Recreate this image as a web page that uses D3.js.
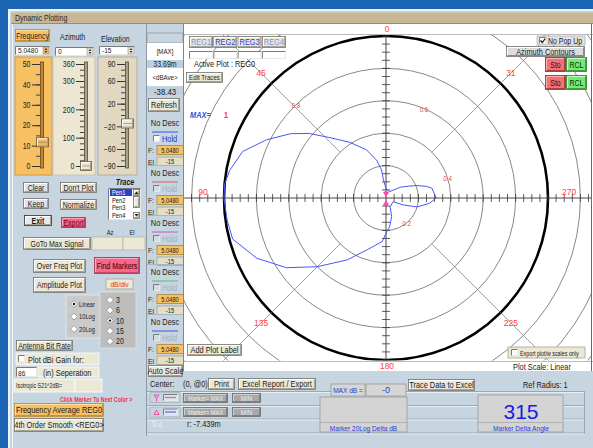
<!DOCTYPE html>
<html>
<head>
<meta charset="utf-8">
<script src="https://cdn.jsdelivr.net/npm/d3@7"></script>
<style>
  body { margin: 0; background: #1c64b4; overflow: hidden; }
  svg text { font-family: "Liberation Sans", Arial, sans-serif; }
</style>
</head>
<body>
<svg id="chart" width="593" height="448"></svg>
<script>
// polar trace (angle in degrees, 0 at top, counter-clockwise; linear magnitude)
var traceAngle  = [0, 8, 9, 14, 22, 33, 43, 50, 56, 64, 72, 80, 85, 90, 98, 105, 115, 119, 125, 135, 148, 160, 175, 181, 187, 197, 205, 243, 248, 254, 263, 270, 282, 286, 292, 298, 307, 332];
var traceRadius = [0.06, 0.11, 0.175, 0.24, 0.32, 0.41, 0.51, 0.62, 0.71, 0.82, 0.93, 0.98, 1.0, 1.0, 0.99, 0.98, 0.88, 0.82, 0.75, 0.60, 0.45, 0.34, 0.27, 0.21, 0.18, 0.12, 0.06, 0.05, 0.115, 0.20, 0.27, 0.31, 0.29, 0.26, 0.205, 0.156, 0.11, 0.044];

var ringValues = [0.2, 0.4, 0.6, 0.8, 1.0, 1.2, 1.4, 1.6];
var ringLabels = ['0.2', '0.4', '0.6', '0.8'];
var ringLabelAngle = [220, 288, 337, 44];
var spokeAngles = [45, 135, 225, 315];
var compassAngles = [0, 45, 90, 135, 180, 225, 270, 315];
var compassLabels = ['0', '45', '90', '135', '180', '225', '270', '31'];

var freqTicks = [50, 40, 30, 20, 10, 0];
var azTicks = [360, 300, 200, 100, 0];
var elTicks = [90, 60, 20, -20, -60, -90];
var freqValue = 11.6, azValue = 0, elValue = -15;

var pens = ['Pen1', 'Pen2', 'Pen3', 'Pen4'];
var traceColors = ['#4050f0', '#e05a5a', '#d050d0', '#50c070', '#4050f0'];
var scaleModes = ['Linear', '10Log', '20Log'];
var dbSteps = ['3', '6', '10', '15', '20'];

var W = 593, H = 448;
var panel = '#c6d5e0', beige = '#ebe8da', orange = '#f6c063';
var svg = d3.select('#chart');

function rect(g, x, y, w, h, fill, stroke, sw) {
  return g.append('rect').attr('x', x).attr('y', y).attr('width', w).attr('height', h)
      .attr('fill', fill || 'none').attr('stroke', stroke || 'none').attr('stroke-width', sw || 1);
}
function txt(g, x, y, s, o) {
  o = o || {};
  return g.append('text').attr('x', x).attr('y', y).text(s)
      .attr('font-size', o.size || 8.5).attr('fill', o.color || '#1a1a1a')
      .attr('text-anchor', o.anchor || 'start')
      .attr('font-weight', o.bold ? 'bold' : null)
      .attr('font-style', o.italic ? 'italic' : null)
      .classed('wide', !!o.wide);
}
function btn(g, x, y, w, h, label, o) {
  o = o || {};
  rect(g, x + 0.5, y + 0.5, w - 1, h - 1, o.fill || beige, o.stroke || '#707070', 0.8);
  g.append('path').attr('d', 'M' + (x + 1.5) + ',' + (y + h - 2) + 'V' + (y + 1.5) + 'H' + (x + w - 2))
      .attr('fill', 'none').attr('stroke', o.light || '#ffffff').attr('stroke-width', 1);
  g.append('path').attr('d', 'M' + (x + 1.5) + ',' + (y + h - 1.5) + 'H' + (x + w - 1.5) + 'V' + (y + 1.5))
      .attr('fill', 'none').attr('stroke', o.dark || '#a5a290').attr('stroke-width', 1);
  if (label) txt(g, x + w / 2, y + h / 2 + (o.size || 8.5) * 0.36, label,
      {anchor: 'middle', size: o.size || 8.5, color: o.color, bold: o.bold});
}
function sunken(g, x, y, w, h, fill) {
  rect(g, x, y, w, h, fill || '#ffffff');
  g.append('path').attr('d', 'M' + (x + 0.5) + ',' + (y + h) + 'V' + (y + 0.5) + 'H' + (x + w))
      .attr('fill', 'none').attr('stroke', '#7a7a7a');
  g.append('path').attr('d', 'M' + (x + 0.5) + ',' + (y + h - 0.5) + 'H' + (x + w - 0.5) + 'V' + (y + 0.5))
      .attr('fill', 'none').attr('stroke', '#e8e8e8');
}
function check(g, x, y, on, disabled) {
  sunken(g, x, y, 7, 7, disabled ? '#d4dbe2' : '#ffffff');
  if (on) g.append('path').attr('d', 'M' + (x + 1.5) + ',' + (y + 3.5) + 'l1.8,2l3,-4')
      .attr('fill', 'none').attr('stroke', '#111').attr('stroke-width', 1.2);
}
function radio(g, x, y, on) {
  g.append('path').attr('d', 'M' + (x - 3.5) + ',' + y + 'L' + x + ',' + (y - 3.5) + 'L' + (x + 3.5) + ',' + y + 'L' + x + ',' + (y + 3.5) + 'Z')
      .attr('fill', '#ffffff').attr('stroke', '#8a8a8a').attr('stroke-width', 0.8);
  if (on) g.append('circle').attr('cx', x).attr('cy', y).attr('r', 1.2).attr('fill', '#111');
}
function spin(g, x, y, w, h, val, sf) {
  sunken(g, x, y, w, h, '#ffffff');
  txt(g, x + 3, y + h - 2, val, {size: 8});
  rect(g, x + w - 7, y + 1, 6, h - 2, sf || '#ece8d8', '#8a8a8a', 0.6);
  g.append('path').attr('d', 'M' + (x + w - 5.5) + ',' + (y + 4) + 'l1.5,-2l1.5,2Z M' + (x + w - 5.5) + ',' + (y + h - 4) + 'l1.5,2l1.5,-2Z')
      .attr('fill', '#333');
}

// ---------- window ----------
rect(svg, 0, 0, W, H, '#1c64b4');
rect(svg, 8, 9, W - 8, H - 9, '#eef3f7');
rect(svg, 10, 11, W - 10, H - 11, panel);
rect(svg, 11.5, 12.5, W - 11.5, 11, '#c8b796');
svg.append('line').attr('x1', 11).attr('x2', W).attr('y1', 23.5).attr('y2', 23.5).attr('stroke', '#9c8c6c');
txt(svg, 15, 21, 'Dynamic Plotting', {size: 8.5, color: '#2a2a2a'});
svg.append('line').attr('x1', 12.5).attr('x2', 12.5).attr('y1', 24).attr('y2', H).attr('stroke', '#f2f5f8');

// ---------- left panel: sliders ----------
var left = svg.append('g');
btn(left, 15, 29, 35, 13, 'Frequency', {fill: orange, stroke: '#b98a30', light: '#ffe0a0', dark: '#c99238', size: 8.5});
spin(left, 15, 46, 35, 9, '5.0480', '#f0c070');
txt(left, 60, 40, 'Azimuth', {size: 8.5});
spin(left, 55, 47, 39, 9, '0');
txt(left, 101, 42, 'Elevation', {size: 8.5});
spin(left, 99, 46, 36, 9, '-15');

function slider(x, w, fill, stroke, ticks, minorStep, axisX, value, thumbW, trackFill) {
  rect(left, x, 57, w, 118, fill, stroke, 1);
  var y = d3.scaleLinear().domain([ticks[ticks.length - 1], ticks[0]]).range([166, 64]);
  var minor = d3.range(ticks[ticks.length - 1], ticks[0] + 0.001, minorStep);
  left.append('g').attr('transform', 'translate(' + axisX + ',0)')
      .call(d3.axisLeft(y).tickValues(minor).tickSize(4).tickFormat(''))
      .call(function(a) { a.select('.domain').remove(); a.selectAll('line').attr('stroke', '#444'); });
  left.append('g').attr('transform', 'translate(' + axisX + ',0)')
      .call(d3.axisLeft(y).tickValues(ticks).tickSize(8).tickPadding(1.5))
      .call(function(a) {
        a.select('.domain').remove();
        a.selectAll('line').attr('stroke', '#333');
        a.selectAll('text').attr('font-size', 8.5).attr('fill', '#222')
            .attr('font-family', '"Liberation Sans", Arial, sans-serif');
      });
  rect(left, axisX + 0.5, 62, 3, 106, trackFill, '#5a4a30', 0.8);
  var ty = y(value);
  btn(left, axisX - 4, ty - 5, thumbW, 10, '', {fill: fill === orange ? '#f3b860' : '#ebe6d6', stroke: '#6a5a40'});
  left.append('line').attr('x1', axisX - 2).attr('x2', axisX - 4 + thumbW - 2).attr('y1', ty).attr('y2', ty).attr('stroke', '#8a7a5a').attr('stroke-width', 0.6);
}
slider(15, 37, orange, '#d09a40', freqTicks, 5, 40, freqValue, 13, '#c88430');
slider(53, 42, '#ede6d3', '#cfc6ad', azTicks, 20, 84, azValue, 12, '#a8a08a');
slider(98, 39, '#e0d8c0', '#b8ae94', elTicks, 10, 125, elValue, 13, '#a8a08a');

// ---------- left panel: buttons ----------
btn(left, 23, 182, 26, 11, 'Clear', {fill: '#dde3ea', size: 8.5});
btn(left, 60, 182, 37, 11, "Don't Plot", {size: 8.5});
btn(left, 23, 198, 26, 11, 'Keep', {fill: '#dde3ea', size: 8.5});
btn(left, 60, 199, 37, 11, 'Normalize', {size: 8.5});
btn(left, 24, 215, 28, 11, 'Exit', {fill: '#e4eaf0', stroke: '#303030', size: 8.5, bold: true});
btn(left, 61, 217, 25, 11, 'Export', {fill: '#f2648a', stroke: '#a03050', light: '#ffa0b8', dark: '#c04060', color: '#7a0010', size: 8.5});

txt(left, 125, 185, 'Trace', {size: 8.5, bold: true, italic: true, anchor: 'middle'});
sunken(left, 108, 188, 33, 32, '#ffffff');
pens.forEach(function(p, i) {
  var py = 189 + i * 7.5;
  if (i === 0) rect(left, 110, py, 22, 7, '#2a44c8');
  txt(left, 112, py + 6, p, {size: 7, color: i === 0 ? '#ffffff' : '#111'});
});
btn(left, 133, 189, 7, 7, '', {});
btn(left, 133, 196, 7, 12, '', {});
btn(left, 133, 212, 7, 7, '', {});
left.append('path').attr('d', 'M134.5,194l2,-2.5l2,2.5Z M134.5,214l2,2.5l2,-2.5Z').attr('fill', '#222');

txt(left, 110, 235, 'Az', {size: 7, anchor: 'middle'});
txt(left, 132, 235, 'El', {size: 7, anchor: 'middle'});
btn(left, 23, 237, 68, 13, 'GoTo Max Signal', {size: 8.5});
rect(left, 92, 237, 31, 13, '#ece8d6', '#b8b4a0', 0.8);
rect(left, 123, 237, 22, 13, '#ece8d6', '#b8b4a0', 0.8);

btn(left, 33, 259, 53, 14, 'Over Freq Plot', {size: 8.5});
btn(left, 94, 257, 46, 17, 'Find Markers', {fill: '#f4688a', stroke: '#a03050', light: '#ffa8c0', dark: '#c84868', color: '#3a0008', size: 8.5});
btn(left, 33, 277, 53, 16, 'Amplitude Plot', {size: 8.5});
rect(left, 106, 279, 27, 10, '#ece8d6', '#a8a490', 0.8);
txt(left, 119.5, 287, 'dB/div', {size: 8, color: '#e03030', anchor: 'middle'});

rect(left, 66, 295, 34, 43, '#cacaca', '#e8e8e8', 0.8);
scaleModes.forEach(function(s, i) {
  var ry = 304 + i * 12.5;
  radio(left, 74, ry, i === 0);
  txt(left, 79, ry + 2.5, s, {size: 7});
});
rect(left, 100, 292, 36, 56, '#bdbdbd', '#e0e0e0', 0.8);
dbSteps.forEach(function(s, i) {
  var ry = 300 + i * 10.3;
  radio(left, 110, ry, s === '10');
  txt(left, 116, ry + 3, s, {size: 8.5});
});

btn(left, 16, 340, 57, 11, 'Antenna Bit Rate', {size: 8.5});
rect(left, 16, 353, 83, 12, '#ece8d6', '#ffffff', 0.8);
check(left, 18, 355, false, false);
txt(left, 28, 362.5, 'Plot dBi Gain  for:', {size: 9});
sunken(left, 16, 367, 21, 10, '#ffffff');
txt(left, 18, 375.5, '86', {size: 8});
rect(left, 38, 367, 61, 10, '#ece8d6', '#ffffff', 0.8);
txt(left, 43, 375.5, '(in) Seperation', {size: 9});
rect(left, 14, 379, 61, 13, '#ece8d6', '#ffffff', 0.8);
txt(left, 16, 388, 'Isotropic S21^2dB=', {size: 6.5});
rect(left, 75, 379, 27, 13, '#ece8d6', '#ffffff', 0.8);
txt(left, 60, 401.5, 'Click Marker To Next Color >', {size: 6.5, color: '#f03050', bold: true});
btn(left, 14, 403, 90, 14, 'Frequency Average REG0', {fill: orange, stroke: '#b98a30', light: '#ffe0a0', dark: '#c99238', size: 9});
btn(left, 14, 418, 90, 14, '4th Order Smooth <REG0>', {size: 9});

// ---------- centre column ----------
var col = svg.append('g');
svg.append('line').attr('x1', 146.5).attr('x2', 146.5).attr('y1', 24).attr('y2', 436).attr('stroke', '#8c9aa8');
rect(col, 147, 33, 36, 10, '#c9d6e0', '#8c9aa8', 0.8);
rect(col, 147, 43, 36, 17, '#ffffff');
txt(col, 165, 54, '[MAX]', {size: 7.5, anchor: 'middle'});
rect(col, 147, 60, 36, 8, '#c0cfdb');
txt(col, 165, 67, '33.69m', {size: 8.5, anchor: 'middle'});
rect(col, 147, 68, 36, 18, '#ffffff');
txt(col, 165, 80, '<dBAve>', {size: 7.5, anchor: 'middle'});
rect(col, 147, 87, 36, 8, '#c0cfdb');
txt(col, 165, 94.5, '-38.43', {size: 9.5, anchor: 'middle'});
btn(col, 148, 98, 32, 14, 'Refresh', {size: 9});

[123, 173, 223, 272, 322].forEach(function(y0, i) {
  if (i > 0) col.append('line').attr('x1', 147).attr('x2', 183).attr('y1', y0 - 7.5).attr('y2', y0 - 7.5).attr('stroke', '#a8b6c2');
  txt(col, 165, y0 + 3, 'No Desc', {size: 9, anchor: 'middle'});
  col.append('line').attr('x1', 152).attr('x2', 178).attr('y1', y0 + 9).attr('y2', y0 + 9)
      .attr('stroke', traceColors[i]).attr('stroke-width', 1);
  check(col, 153, y0 + 12, false, i > 0);
  txt(col, 162, y0 + 18.5, 'Hold', {size: 9, color: i === 0 ? '#2030e0' : '#a4afba'});
  txt(col, 148, y0 + 30, 'F:', {size: 8});
  rect(col, 157, y0 + 22.5, 27, 9, orange, '#a88640', 0.8);
  txt(col, 170, y0 + 29.5, '5.0480', {size: 7, anchor: 'middle'});
  txt(col, 148, y0 + 41.5, 'El', {size: 8});
  rect(col, 157, y0 + 34, 27, 8.5, '#e6dec4', '#a8a48c', 0.8);
  txt(col, 170, y0 + 41, '-15', {size: 7, anchor: 'middle'});
});

// ---------- polar plot ----------
var cx = 386, cy = 198;
var r = d3.scaleLinear().domain([0, 1]).range([0, 162]);
function pt(deg, v) {
  var a = deg * Math.PI / 180;
  return [cx - r(v) * Math.sin(a), cy - r(v) * Math.cos(a)];
}
rect(svg, 183, 24, W - 183, 347, '#ffffff');
svg.append('defs').append('clipPath').attr('id', 'plotclip')
    .append('rect').attr('x', 183.5).attr('y', 34.5).attr('width', W - 185).attr('height', 326);

var plot = svg.append('g').attr('clip-path', 'url(#plotclip)');

plot.selectAll('.ring').data(ringValues).enter().append('circle')
    .attr('cx', cx).attr('cy', cy).attr('r', function(d) { return r(d); })
    .attr('fill', 'none')
    .attr('stroke', function(d) { return d === 1 ? '#000' : '#555'; })
    .attr('stroke-width', function(d) { return d === 1 ? 2.6 : 0.7; });

plot.selectAll('.spoke').data(spokeAngles).enter().append('line')
    .attr('x1', function(d) { return pt(d, 0.4)[0]; }).attr('y1', function(d) { return pt(d, 0.4)[1]; })
    .attr('x2', function(d) { return pt(d, 2)[0]; }).attr('y2', function(d) { return pt(d, 2)[1]; })
    .attr('stroke', '#777').attr('stroke-width', 0.7);

plot.append('line').attr('x1', 183).attr('x2', W).attr('y1', cy).attr('y2', cy).attr('stroke', '#333').attr('stroke-width', 0.9);
plot.append('line').attr('x1', cx).attr('x2', cx).attr('y1', 34).attr('y2', 361).attr('stroke', '#333').attr('stroke-width', 0.9);
var tickVals = d3.range(-26, 27).filter(function(k) { return k !== 0; }).map(function(k) { return k * 0.05; });
plot.selectAll('.tx').data(tickVals).enter().append('line')
    .attr('x1', function(d) { return cx + r(d); }).attr('x2', function(d) { return cx + r(d); })
    .attr('y1', cy - 4).attr('y2', cy + 4).attr('stroke', '#333').attr('stroke-width', 0.8);
plot.selectAll('.ty').data(tickVals).enter().append('line')
    .attr('y1', function(d) { return cy + r(d); }).attr('y2', function(d) { return cy + r(d); })
    .attr('x1', cx - 4).attr('x2', cx + 4).attr('stroke', '#333').attr('stroke-width', 0.8);

ringLabels.forEach(function(s, i) {
  var p = pt(ringLabelAngle[i], +s);
  txt(plot, p[0], p[1] + 3, s, {size: 7.5, color: '#ff4040', anchor: 'middle'});
});

var trace = traceAngle.map(function(a, i) { return [a, traceRadius[i]]; });
var radial = d3.lineRadial()
    .angle(function(d) { return -d[0] * Math.PI / 180; })
    .radius(function(d) { return r(d[1]); })
    .curve(d3.curveLinearClosed);
plot.append('path').attr('transform', 'translate(' + cx + ',' + cy + ')')
    .attr('d', radial(trace)).attr('fill', 'none').attr('stroke', '#4a56f2').attr('stroke-width', 1);

// markers at the centre
plot.append('path').attr('d', 'M' + (cx - 2.5) + ',' + (cy - 6) + 'h5l-2.5,4.5Z M' + cx + ',' + (cy - 1.5) + 'v-6')
    .attr('fill', '#ff50b0').attr('stroke', '#ff40a8').attr('stroke-width', 0.8);
plot.append('path').attr('d', 'M' + (cx - 2.5) + ',' + (cy + 7) + 'h5l-2.5,-4.5Z')
    .attr('fill', '#ff50b0').attr('stroke', '#ff40a8').attr('stroke-width', 0.8);

// compass labels
compassAngles.forEach(function(a, i) {
  var p, s = compassLabels[i];
  if (a === 0) p = [cx + 1, 32];
  else if (a === 180) p = [cx + 1, 369];
  else if (a === 90 || a === 270) { p = pt(a, 1.13); p[1] -= 3; }
  else { p = pt(a, 1.09); p[1] += 3; }
  txt(svg, p[0], p[1], s, {size: 8.5, color: '#ff4040', anchor: 'middle', wide: true});
});

svg.append('line').attr('x1', 183).attr('x2', W).attr('y1', 34.5).attr('y2', 34.5).attr('stroke', '#bbbbbb');
svg.append('line').attr('x1', 183).attr('x2', W).attr('y1', 361.5).attr('y2', 361.5).attr('stroke', '#bbbbbb');
svg.append('line').attr('x1', 183.5).attr('x2', 183.5).attr('y1', 24).attr('y2', 371).attr('stroke', '#7a8896');
svg.append('line').attr('x1', 591.5).attr('x2', 591.5).attr('y1', 24).attr('y2', 371).attr('stroke', '#6a6a6a');
txt(svg, 513, 369.5, 'Plot Scale: Linear', {size: 9});

// overlays on the plot
var ov = svg.append('g');
['REG1', 'REG2', 'REG3', 'REG4'].forEach(function(s, i) {
  btn(ov, 189 + i * 24.3, 36, 24, 12, s, {size: 9, color: (i === 1 || i === 2) ? '#2638d8' : '#7890e6'});
  sunken(ov, 189 + i * 24.3, 51, 24, 8, '#ffffff');
});
txt(ov, 194, 67, 'Active Plot : REG0', {size: 9});
btn(ov, 186, 72, 37, 11, 'Edit Traces', {size: 7.5});
txt(ov, 190, 118, 'MAX=', {size: 9, color: '#3050e0', bold: true, italic: true});
txt(ov, 224, 118, '1', {size: 9, color: '#ff3030', bold: true});

rect(ov, 537, 36, 48, 9, '#e2e2e2', '#9a9a9a', 0.6);
check(ov, 539, 37, true, false);
txt(ov, 548, 43.5, 'No Pop Up', {size: 8.5});
btn(ov, 506, 46, 79, 11, 'Azimuth Contours', {fill: '#dcdcdc', size: 9, dark: '#8a8a8a'});
[57, 75].forEach(function(by) {
  btn(ov, 545, by, 21, 15, 'Sto', {fill: '#f07272', stroke: '#8a2a2a', light: '#ffb0b0', dark: '#b04040', color: '#4a0000', size: 8.5});
  btn(ov, 566, by, 21, 15, 'RCL', {fill: '#74ea74', stroke: '#2a7a2a', light: '#c0ffc0', dark: '#40a040', color: '#003000', size: 8.5});
});
btn(ov, 187, 344, 55, 12, 'Add Plot Label', {size: 9});
rect(ov, 508, 347, 77, 11, '#ece8d6', '#a8a490', 0.8);
check(ov, 511, 349, false, false);
txt(ov, 520, 355.5, 'Export plot/w scales only', {size: 6.5});

// ---------- bottom panel ----------
var bot = svg.append('g');
btn(bot, 148, 365, 35, 12, 'Auto Scale', {size: 9});
txt(bot, 150, 386.5, 'Center:', {size: 9});
txt(bot, 183, 387, '(0, @0)', {size: 9});
btn(bot, 208, 378, 27, 12, 'Print', {size: 9});
btn(bot, 238, 378, 78, 12, 'Excel Report / Export', {size: 9});
btn(bot, 408, 379, 67, 12, 'Trace Data to Excel', {size: 9});
txt(bot, 523, 387.5, 'Ref Radius: 1', {size: 9});

[391.5, 405.5, 419, 433].forEach(function(ly) {
  bot.append('line').attr('x1', 147).attr('x2', 585).attr('y1', ly).attr('y2', ly).attr('stroke', '#9aa8b4');
  bot.append('line').attr('x1', 147).attr('x2', 585).attr('y1', ly + 1).attr('y2', ly + 1).attr('stroke', '#e6eef4');
});
bot.append('line').attr('x1', 584.5).attr('x2', 584.5).attr('y1', 391).attr('y2', 434).attr('stroke', '#9aa8b4');

rect(bot, 331, 384, 34, 12, '#d6d6d6', '#9a9a9a', 0.8);
txt(bot, 348, 393, 'MAX dB =', {size: 8, color: '#2a3ad8', anchor: 'middle'});
rect(bot, 366, 384, 40, 12, '#d6d6d6', '#9a9a9a', 0.8);
txt(bot, 386, 393, '-0', {size: 9, color: '#2a3ad8', anchor: 'middle', wide: true});
rect(bot, 320, 397, 87, 35, '#d4d4d4', '#9a9a9a', 0.8);
bot.append('line').attr('x1', 320).attr('x2', 407).attr('y1', 422.5).attr('y2', 422.5).attr('stroke', '#b0b0b0');
txt(bot, 363.5, 430.5, 'Marker 20Log Delta dB', {size: 8, color: '#2a3ad8', anchor: 'middle'});
rect(bot, 478, 395, 85, 37, '#d4d4d4', '#9a9a9a', 0.8);
bot.append('line').attr('x1', 478).attr('x2', 563).attr('y1', 422.5).attr('y2', 422.5).attr('stroke', '#b0b0b0');
txt(bot, 521, 418.5, '315', {size: 21, color: '#1a1ae8', anchor: 'middle', wide: true});
txt(bot, 521, 430.5, 'Marker Delta Angle', {size: 8, color: '#2a3ad8', anchor: 'middle'});

// marker rows
rect(bot, 150, 392.5, 30, 10, panel, '#9aa8b4', 0.6);
bot.append('path').attr('d', 'M154,395h5l-2.5,3.5Z M156.5,398.5v3').attr('fill', 'none').attr('stroke', '#ff3aa0').attr('stroke-width', 0.9);
sunken(bot, 163, 394, 15, 7, '#dde6ee');
bot.append('line').attr('x1', 165).attr('x2', 176).attr('y1', 397.5).attr('y2', 397.5).attr('stroke', '#e06a80').attr('stroke-width', 1.2);
rect(bot, 150, 407, 30, 10, panel, '#9aa8b4', 0.6);
bot.append('path').attr('d', 'M154,414.5h5l-2.5,-4.5Z').attr('fill', 'none').attr('stroke', '#ff3aa0').attr('stroke-width', 0.9);
sunken(bot, 163, 408.5, 15, 7, '#dde6ee');
bot.append('line').attr('x1', 165).attr('x2', 176).attr('y1', 412).attr('y2', 412).attr('stroke', '#5a6af0').attr('stroke-width', 1.2);
[393, 407].forEach(function(my) {
  btn(bot, 183, my, 45, 10, 'Marker= MAX', {fill: '#a8a8a8', stroke: '#6a6a6a', light: '#d0d0d0', dark: '#808080', color: '#eeeeee', size: 7});
  btn(bot, 232, my, 29, 10, 'MIN', {fill: '#a8a8a8', stroke: '#6a6a6a', light: '#d0d0d0', dark: '#808080', color: '#eeeeee', size: 7.5});
});
txt(bot, 152, 427, '\u2207-\u0394', {size: 7.5, color: '#eef2f6'});
txt(bot, 187, 427, 'r: -7.439m', {size: 9});

// the original UI font is a narrow one: squeeze the text horizontally
svg.selectAll('text').each(function() {
  if (d3.select(this).classed('wide') || !this.textContent) return;
  var len = this.getComputedTextLength();
  if (len > 0) d3.select(this).attr('textLength', len * 0.82).attr('lengthAdjust', 'spacingAndGlyphs');
});
</script>
</body>
</html>
